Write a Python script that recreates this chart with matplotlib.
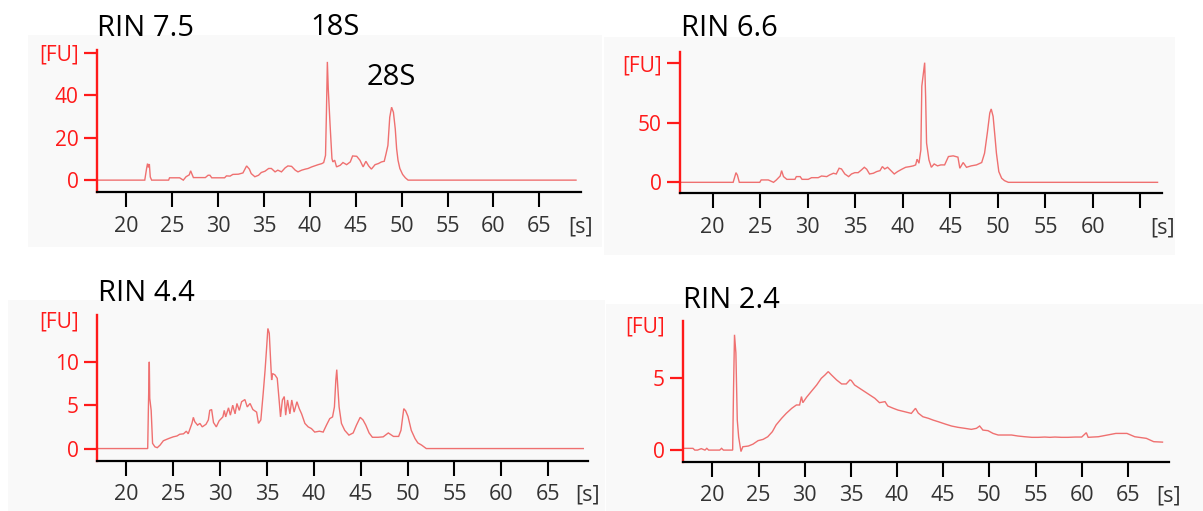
import matplotlib
matplotlib.use("Agg")
import matplotlib.pyplot as plt
from matplotlib.patches import Rectangle

W, H = 1203, 511

# ---------------- data ----------------
titles = ["RIN 7.5", "RIN 6.6", "RIN 4.4", "RIN 2.4"]
peak_labels = ["18S", "28S"]

x1 = [16.8, 22.0, 22.2, 22.3, 22.4, 22.5, 22.6, 22.75, 24.6, 24.7,
      25.8, 26.2, 26.5, 26.85, 27.0, 27.3, 28.6, 28.9, 29.1, 29.3,
      30.7, 30.9, 31.3, 31.6, 32.2, 32.7, 33.1, 33.4, 33.6, 34.0,
      34.4, 34.7, 35.1, 35.5, 35.8, 36.2, 36.5, 36.9, 37.3, 37.6,
      38.0, 38.4, 38.7, 39.1, 39.5, 39.8, 40.2, 40.5, 40.9, 41.3,
      41.5, 41.7, 41.8, 41.9, 42.0, 42.2, 42.4, 42.5, 42.7, 42.9,
      43.3, 43.6, 44.0, 44.4, 44.65, 45.1, 45.45, 45.8, 46.1, 46.4,
      46.7, 47.1, 47.45, 47.8, 48.1, 48.3, 48.5, 48.7, 48.9, 49.1,
      49.3, 49.45, 49.6, 49.8, 50.1, 50.4, 50.7, 69.0]
y1 = [0, 0, 5.5, 7.8, 6.0, 7.6, 1.5, 0, 0, 1.1,
      1.1, 0, 1.6, 2.5, 4.4, 1.2, 1.2, 2.3, 2.3, 1.1,
      1.1, 2.0, 1.9, 2.7, 2.8, 3.4, 6.7, 5.2, 3.1, 1.6,
      2.3, 3.6, 4.2, 5.5, 5.5, 3.9, 4.7, 3.9, 5.8, 6.7,
      6.5, 4.7, 3.9, 4.7, 5.2, 5.5, 6.25, 6.7, 7.3, 7.8,
      8.3, 11.7, 32, 55.8, 43, 25.8, 10.2, 8.6, 9.4, 6.25,
      7.0, 8.3, 7.3, 8.6, 11.4, 11.25, 9.4, 6.25, 8.9, 6.7,
      5.2, 7.3, 7.8, 8.6, 8.9, 12.5, 16.4, 29.7, 34.4, 32,
      24.2, 14.8, 9.4, 5.5, 2.7, 1.1, 0, 0]

x2 = [16.6, 22.15, 22.3, 22.45, 22.6, 22.8, 24.95, 25.1, 25.85, 26.4,
      26.7, 27.1, 27.25, 27.45, 27.8, 28.65, 28.8, 29.2, 29.4, 30.05,
      30.4, 31.1, 31.45, 32.0, 32.3, 32.7, 33.0, 33.3, 33.55, 33.9,
      34.3, 34.6, 34.95, 35.3, 35.65, 35.95, 36.2, 36.5, 36.9, 37.25,
      37.6, 37.85, 38.1, 38.4, 38.75, 39.1, 39.45, 39.9, 40.3, 40.75,
      41.1, 41.35, 41.5, 41.7, 41.9, 42.0, 42.15, 42.3, 42.4, 42.5,
      42.75, 43.0, 43.3, 43.65, 44.0, 44.4, 44.8, 45.3, 45.8, 46.0,
      46.35, 46.7, 47.2, 47.75, 48.3, 48.6, 48.9, 49.15, 49.3, 49.5,
      49.7, 49.85, 50.1, 50.4, 50.7, 51.1, 66.8]
y2 = [0, 0, 4, 8.1, 6, 0, 0, 2.0, 2.0, 0,
      2.0, 5.3, 9.8, 4.8, 2.5, 2.5, 4.8, 4.8, 2.5, 2.5,
      3.9, 3.9, 5.3, 4.8, 6.2, 7.6, 7.0, 11.8, 11.2, 7.0,
      4.8, 7.0, 8.1, 8.1, 10.4, 12.6, 11.0, 7.0, 7.6, 9.0,
      9.8, 13.2, 11.2, 12.6, 9.8, 7.0, 9.0, 11.0, 12.6, 13.2,
      13.8, 14.6, 19.4, 16.0, 27.2, 80.6, 90.4, 100.3, 72, 32.9,
      18.8, 12.6, 15.4, 13.8, 14.6, 14.6, 21.6, 22.2, 21.1, 11.8,
      16.6, 12.6, 13.8, 14.6, 16.6, 24.4, 41.9, 58.1, 61.5, 55.3,
      37.9, 24.4, 9.0, 3.4, 1.4, 0, 0]

x3 = [16.9, 22.28, 22.35, 22.45, 22.5, 22.65, 22.8, 23.05, 23.3, 23.6,
      23.95, 24.5, 25.0, 25.4, 25.7, 26.1, 26.4, 26.6, 27.0, 27.15,
      27.3, 27.6, 27.85, 28.1, 28.5, 28.75, 28.9, 29.1, 29.3, 29.6,
      29.9, 30.3, 30.45, 30.6, 30.9, 31.1, 31.35, 31.6, 31.8, 32.05,
      32.3, 32.65, 32.9, 33.2, 33.5, 33.9, 34.1, 34.35, 34.6, 34.8,
      34.95, 35.1, 35.25, 35.4, 35.5, 35.6, 35.85, 36.1, 36.3, 36.45,
      36.65, 36.85, 37.0, 37.2, 37.45, 37.65, 37.9, 38.2, 38.45, 38.7,
      39.05, 39.4, 39.75, 40.1, 40.6, 41.0, 41.35, 41.7, 42.0, 42.2,
      42.35, 42.45, 42.55, 42.7, 42.95, 43.3, 43.75, 44.2, 44.55, 44.95,
      45.25, 45.55, 45.9, 46.25, 46.85, 47.4, 47.95, 48.5, 49.05, 49.3,
      49.6, 49.8, 50.05, 50.4, 50.8, 51.1, 51.5, 52.0, 68.75]
y3 = [0, 0, 4.4, 10.0, 5.8, 4.4, 0.6, 0.2, 0.1, 0.4,
      0.9, 1.15, 1.35, 1.45, 1.65, 1.7, 2.0, 1.7, 2.9, 3.6,
      3.1, 2.7, 2.9, 2.5, 2.8, 3.3, 4.4, 4.5, 3.0, 2.5,
      3.2, 3.65, 4.4, 3.65, 4.7, 3.85, 5.0, 4.0, 5.2, 4.4,
      5.4, 5.65, 4.8, 5.2, 4.5, 4.2, 2.9, 3.3, 6.35, 9.0,
      11.35, 13.85, 13.3, 10.0, 7.9, 8.65, 8.5, 8.1, 5.6, 3.65,
      5.6, 6.0, 3.85, 5.6, 4.0, 5.6, 4.2, 5.4, 4.6, 4.0,
      2.9, 2.5, 2.3, 1.9, 2.0, 1.9, 2.7, 3.45, 3.65, 4.8,
      7.9, 9.1, 7.3, 4.8, 2.9, 2.1, 1.55, 1.8, 2.7, 3.6,
      3.3, 2.7, 1.8, 1.3, 1.3, 1.35, 1.8, 1.4, 1.4, 2.1,
      4.6, 4.35, 3.7, 2.1, 1.15, 0.65, 0.4, 0, 0]

x4 = [16.8, 17.9, 18.1, 18.4, 18.8, 19.2, 19.4, 19.6, 20.8, 21.0,
      21.2, 22.2, 22.3, 22.4, 22.55, 22.7, 22.85, 23.1, 23.3, 23.9,
      24.4, 24.95, 25.5, 26.0, 26.5, 26.9, 27.5, 28.0, 28.6, 29.1,
      29.45, 29.65, 29.8, 30.2, 30.7, 31.3, 31.8, 32.2, 32.55, 32.9,
      33.45, 34.0, 34.5, 34.9, 35.05, 35.4, 35.95, 36.5, 37.05, 37.6,
      38.1, 38.7, 39.0, 39.6, 40.1, 40.8, 41.55, 42.0, 42.3, 42.8,
      43.4, 43.9, 44.45, 45.2, 45.9, 46.6, 47.35, 48.05, 48.6, 48.95,
      49.3, 49.85, 50.4, 50.95, 51.7, 52.4, 53.1, 53.85, 54.6, 55.3,
      56.0, 56.55, 57.1, 57.8, 58.5, 59.3, 60.0, 60.5, 60.7, 61.2,
      61.8, 63.7, 64.9, 65.75, 67.0, 67.8, 68.75]
y4 = [0.12, 0.12, 0.0, 0.0, 0.1, 0.0, 0.12, 0.0, 0.0, 0.12,
      0.0, 0.0, 4.4, 7.95, 6.7, 2.07, 0.9, -0.1, 0.23, 0.28,
      0.41, 0.65, 0.74, 0.92, 1.27, 1.73, 2.19, 2.53, 2.88, 3.11,
      3.11, 3.69, 3.27, 3.64, 4.03, 4.49, 4.95, 5.18, 5.41, 5.18,
      4.84, 4.56, 4.56, 4.84, 4.8, 4.49, 4.26, 4.03, 3.8, 3.57,
      3.27, 3.34, 3.04, 2.88, 2.76, 2.65, 2.53, 2.88, 2.55, 2.3,
      2.19, 2.07, 1.96, 1.8, 1.66, 1.57, 1.5, 1.43, 1.5, 1.66,
      1.38, 1.34, 1.15, 1.04, 1.04, 1.04, 0.97, 0.92, 0.88, 0.88,
      0.9, 0.88, 0.9, 0.88, 0.88, 0.9, 0.9, 1.2, 0.88, 0.9,
      0.92, 1.15, 1.15, 0.92, 0.81, 0.58, 0.55]

yticks1 = [0, 20, 40, 60]
ytick_labels1 = ["0", "20", "40", "[FU]"]
yticks2 = [0, 50, 100]
ytick_labels2 = ["0", "50", "[FU]"]
yticks3 = [0, 5, 10]
ytick_labels3 = ["0", "5", "10"]
yticks4 = [0, 5]
ytick_labels4 = ["0", "5"]

xticks_full = [20, 25, 30, 35, 40, 45, 50, 55, 60, 65]
xtick_labels_full = ["20", "25", "30", "35", "40", "45", "50", "55", "60", "65"]
xtick_labels_p2 = ["20", "25", "30", "35", "40", "45", "50", "55", "60", ""]

# ---------------- styling ----------------
FONT = "Open Sans"
TRACE = "#ef7070"
RED = "#ff1a1a"
GRAY_BG = "#f9f9f9"
XFS = 15.5
YFS = 15

fig = plt.figure(figsize=(W / 100, H / 100), dpi=100)
fig.patch.set_facecolor("white")


def px_rect(x0, y0, x1_, y1_):
    return Rectangle((x0 / W, 1 - y1_ / H), (x1_ - x0) / W, (y1_ - y0) / H,
                     transform=fig.transFigure, facecolor=GRAY_BG,
                     edgecolor="none", zorder=0)


for r in [(28, 35, 602, 247), (604, 37, 1175, 255),
          (8, 300, 605, 511), (606, 304, 1203, 511)]:
    fig.add_artist(px_rect(*r))


def make_axes(left, right, top, bottom):
    return fig.add_axes([left / W, 1 - bottom / H, (right - left) / W, (bottom - top) / H])


panels = [
    dict(box=(96.5, 580.6, 50, 192), x=x1, y=y1, xlim=(16.74, 69.5), ylim=(-5.6, 61.4),
         yt=yticks1, ytl=ytick_labels1, xtl=xtick_labels_full, fu=None),
    dict(box=(680, 1162.3, 51.7, 193.3), x=x2, y=y2, xlim=(16.56, 67.3), ylim=(-9.2, 109.5),
         yt=yticks2, ytl=ytick_labels2, xtl=xtick_labels_p2, fu=None),
    dict(box=(96.8, 587.5, 315, 460.7), x=x3, y=y3, xlim=(16.85, 69.2), ylim=(-1.4, 15.4),
         yt=yticks3, ytl=ytick_labels3, xtl=xtick_labels_full, fu=14.6),
    dict(box=(682.7, 1168.5, 321, 461.7), x=x4, y=y4, xlim=(16.79, 69.4), ylim=(-0.8, 8.9),
         yt=yticks4, ytl=ytick_labels4, xtl=xtick_labels_full, fu=8.5),
]

for p in panels:
    ax = make_axes(*p["box"])
    ax.set_facecolor("none")
    ax.plot(p["x"], p["y"], color=TRACE, lw=1.0, solid_joinstyle="miter")
    ax.set_xlim(*p["xlim"])
    ax.set_ylim(*p["ylim"])
    for s in ("top", "right"):
        ax.spines[s].set_visible(False)
    ax.spines["left"].set_color(RED)
    ax.spines["left"].set_linewidth(1.7)
    ax.spines["bottom"].set_color("black")
    ax.spines["bottom"].set_linewidth(1.6)
    ax.set_yticks(p["yt"])
    ax.set_yticklabels(p["ytl"], fontfamily=FONT, fontsize=YFS, color=RED)
    ax.set_xticks(xticks_full)
    ax.set_xticklabels(p["xtl"], fontfamily=FONT, fontsize=XFS, color="#333333")
    ax.tick_params(axis="y", colors=RED, length=9.6, width=1.6, pad=3.4)
    ax.tick_params(axis="x", color="black", labelcolor="#333333", length=10.8,
                   width=1.5, pad=6.3)
    ax.annotate("[s]", xy=(1.0, 0.0), xycoords="axes fraction",
                xytext=(0, -25), textcoords="offset points",
                ha="center", va="center", fontfamily=FONT, fontsize=XFS,
                color="#333333", annotation_clip=False)
    if p["fu"] is not None:
        ax.annotate("[FU]", xy=(0.0, p["fu"]), xycoords=("axes fraction", "data"),
                    xytext=(-13.0, 0), textcoords="offset points",
                    ha="right", va="center", fontfamily=FONT, fontsize=YFS,
                    color=RED, annotation_clip=False)

# titles / peak labels (pixel positions, baseline aligned)
title_pos = [(96.7, 36), (681, 36), (98.5, 301), (682.7, 307.5)]
for t, (px, py) in zip(titles, title_pos):
    fig.text(px / W, 1 - py / H, t, ha="left", va="baseline",
             fontfamily=FONT, fontsize=21, color="black")
peak_pos = [(335, 35), (391, 85)]
for t, (px, py) in zip(peak_labels, peak_pos):
    fig.text(px / W, 1 - py / H, t, ha="center", va="baseline",
             fontfamily=FONT, fontsize=21, color="black")

fig.savefig("out.png", dpi=100)
